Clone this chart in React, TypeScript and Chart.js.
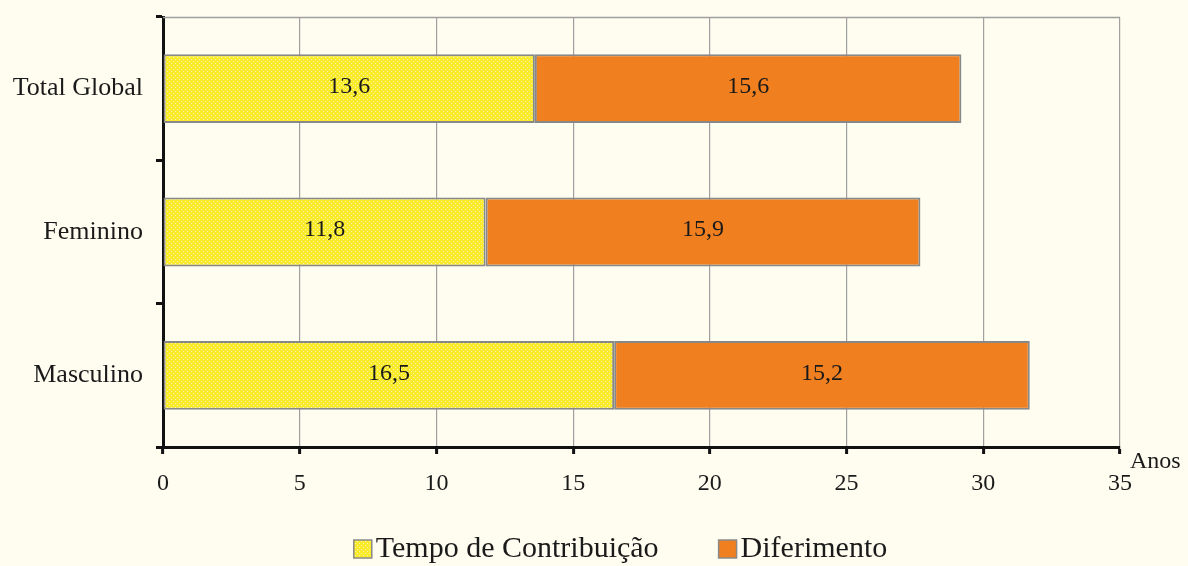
import React, { useEffect, useRef } from "react";
import { Chart, registerables } from "chart.js";

Chart.register(...registerables);

const categories = ["Total Global", "Feminino", "Masculino"];
const tempoContribuicao = [13.6, 11.8, 16.5];
const diferimento = [15.6, 15.9, 15.2];
const seriesNames = ["Tempo de Contribuição", "Diferimento"];
const xTicks = [0, 5, 10, 15, 20, 25, 30, 35];
const axisUnit = "Anos";

const FONT = '"Liberation Serif", "Times New Roman", serif';
const BG = "#FEFDF0";
const ORANGE = "#EF7F1F";
const GRID = "#A0A0A0";

function makeYellowPattern(): CanvasPattern | string {
  const c = document.createElement("canvas");
  c.width = 4;
  c.height = 4;
  const g = c.getContext("2d");
  if (!g) return "#FFEE22";
  g.fillStyle = "#F9EA2A";
  g.fillRect(0, 0, 4, 4);
  g.fillStyle = "#FDF6A8";
  g.fillRect(1, 1, 1, 1);
  g.fillRect(3, 3, 1, 1);
  const p = g.createPattern(c, "repeat");
  return p || "#FFEE22";
}

export default function App() {
  const ref = useRef<HTMLCanvasElement | null>(null);

  useEffect(() => {
    if (!ref.current) return;
    const yellow = makeYellowPattern();

    const valueLabels = {
      id: "valueLabels",
      afterDatasetsDraw(chart: any) {
        const ctx = chart.ctx;
        ctx.save();
        ctx.font = `24px ${FONT}`;
        ctx.fillStyle = "#1a1a1a";
        ctx.textAlign = "center";
        ctx.textBaseline = "middle";
        chart.data.datasets.forEach((ds: any, di: number) => {
          const meta = chart.getDatasetMeta(di);
          meta.data.forEach((el: any, i: number) => {
            const v = ds.data[i];
            const cx = (el.x + el.base) / 2;
            ctx.fillText(String(v).replace(".", ","), cx, el.y - 2);
          });
        });
        ctx.restore();
      },
    };

    const extras = {
      id: "extras",
      beforeDatasetsDraw(chart: any) {
        const { ctx, chartArea } = chart;
        ctx.save();
        ctx.strokeStyle = GRID;
        ctx.lineWidth = 1.5;
        ctx.beginPath();
        ctx.moveTo(chartArea.left, chartArea.top + 0.5);
        ctx.lineTo(chartArea.right, chartArea.top + 0.5);
        ctx.stroke();
        ctx.restore();
      },
      afterDraw(chart: any) {
        const { ctx, chartArea } = chart;
        ctx.save();
        // axis unit
        ctx.font = `24px ${FONT}`;
        ctx.fillStyle = "#1a1a1a";
        ctx.textAlign = "left";
        ctx.textBaseline = "middle";
        ctx.fillText(axisUnit, chartArea.right + 10, chartArea.bottom + 15);

        // legend
        ctx.font = `30px ${FONT}`;
        const box = 18;
        const gap = 4;
        const spacing = 60;
        const colors = [yellow, ORANGE];
        const widths = seriesNames.map((t) => ctx.measureText(t).width);
        const total =
          widths.reduce((a, b) => a + b, 0) + seriesNames.length * (box + gap) + spacing * (seriesNames.length - 1);
        let x = (chartArea.left + chartArea.right) / 2 - 21 - total / 2;
        const cy = 549;
        seriesNames.forEach((t, i) => {
          ctx.fillStyle = colors[i] as any;
          ctx.fillRect(x, cy - box / 2, box, box);
          ctx.strokeStyle = "#8a8a8a";
          ctx.lineWidth = 1.5;
          ctx.strokeRect(x, cy - box / 2, box, box);
          ctx.fillStyle = "#1a1a1a";
          ctx.textBaseline = "middle";
          ctx.fillText(t, x + box + gap, cy);
          x += box + gap + widths[i] + spacing;
        });
        ctx.restore();
      },
    };

    const chart = new Chart(ref.current, {
      type: "bar",
      data: {
        labels: categories,
        datasets: [
          {
            label: seriesNames[0],
            data: tempoContribuicao,
            backgroundColor: yellow as any,
            borderColor: "#888888",
            borderWidth: 2,
            borderSkipped: false,
            barPercentage: 0.48,
            categoryPercentage: 1,
          },
          {
            label: seriesNames[1],
            data: diferimento,
            backgroundColor: ORANGE,
            borderColor: "#888888",
            borderWidth: 2,
            borderSkipped: false,
            barPercentage: 0.48,
            categoryPercentage: 1,
          },
        ],
      },
      options: {
        indexAxis: "y",
        animation: false,
        responsive: false,
        maintainAspectRatio: false,
        layout: { padding: { top: 17, right: 68, bottom: 69, left: 0 } },
        plugins: {
          legend: { display: false },
          tooltip: { enabled: false },
          title: { display: false },
        },
        scales: {
          x: {
            stacked: true,
            min: 0,
            max: 35,
            afterBuildTicks: (scale: any) => {
              scale.ticks = xTicks.map((v) => ({ value: v }));
            },
            afterFit: (scale: any) => {
              scale.height = 50;
            },
            border: { display: true, color: "#111111", width: 3 },
            grid: {
              color: GRID,
              lineWidth: 1.2,
              tickColor: "#111111",
              tickWidth: 3,
              tickLength: 7,
            },
            ticks: {
              color: "#1a1a1a",
              font: { family: FONT, size: 24 },
              padding: 15,
              maxRotation: 0,
            },
          },
          y: {
            stacked: true,
            offset: true,
            afterFit: (scale: any) => {
              scale.width = 163;
              scale.paddingTop = 0;
              scale.paddingBottom = 0;
            },
            border: { display: true, color: "#111111", width: 3 },
            grid: {
              offset: true,
              drawOnChartArea: false,
              tickColor: "#111111",
              tickWidth: 3,
              tickLength: 7,
            },
            ticks: {
              color: "#1a1a1a",
              font: { family: FONT, size: 26 },
              padding: 13,
            },
          },
        },
      },
      plugins: [valueLabels, extras],
    });

    return () => chart.destroy();
  }, []);

  return (
    <div
      style={{
        position: "fixed",
        left: 0,
        top: 0,
        width: 1188,
        height: 566,
        background: BG,
      }}
    >
      <canvas ref={ref} width={1188} height={566} style={{ width: 1188, height: 566, display: "block" }} />
    </div>
  );
}
